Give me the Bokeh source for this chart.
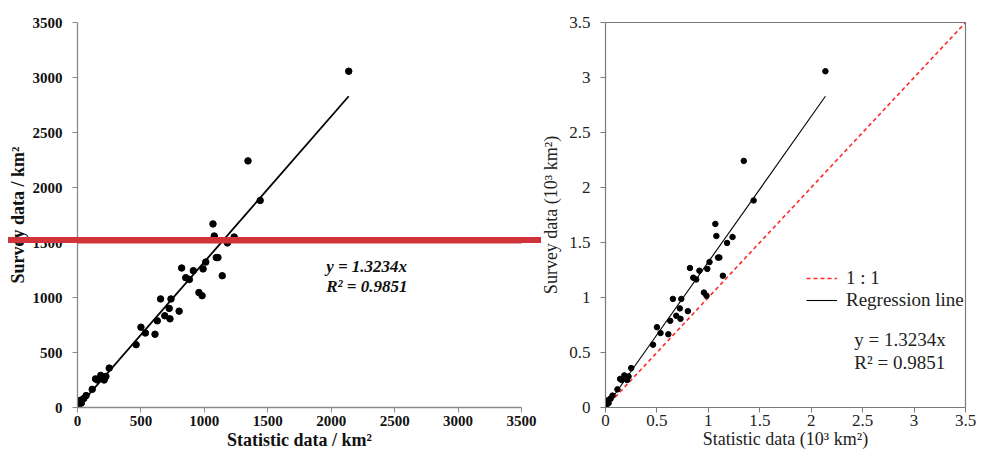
from bokeh.plotting import figure
from bokeh.layouts import row
from bokeh.models import (Range1d, FixedTicker, Label, Legend, LegendItem, BoxAnnotation,
                          InlineStyleSheet)
from bokeh.embed import file_html
from bokeh.resources import INLINE

# ---- data (km²) ----
stat_km2 = [2138, 1344, 1440, 1068, 1078, 1182, 1235, 1094, 1107, 1011, 990, 821,
            913, 853, 882, 1141, 957, 982, 655, 737, 723, 688, 729, 801, 629, 500,
            535, 611, 462, 250, 142, 157, 183, 210, 224, 116, 68, 50, 24, 15, 10, 6, 3, 30]
surv_km2 = [3057, 2242, 1882, 1669, 1559, 1496, 1550, 1363, 1363, 1322, 1260, 1268,
            1244, 1180, 1164, 1198, 1045, 1016, 987, 987, 901, 834, 806, 876, 788, 730,
            677, 666, 571, 358, 260, 250, 292, 250, 282, 165, 108, 82, 66, 42, 25, 15, 8, 40]
slope = 1.3234
r_squared = 0.9851
left_ticks = [0, 500, 1000, 1500, 2000, 2500, 3000, 3500]
right_ticks = [0, 0.5, 1, 1.5, 2, 2.5, 3, 3.5]
right_tick_labels = ["0", "0.5", "1", "1.5", "2", "2.5", "3", "3.5"]

SERIF = "Liberation Serif"
GRAY = "#8a8a8a"
BAR_RED = "#d0343a"

stat_k = [v / 1000 for v in stat_km2]
surv_k = [v / 1000 for v in surv_km2]
xmax = max(stat_km2)

# ---------------- left panel ----------------
p1 = figure(width=538, height=452, output_backend="svg", toolbar_location=None,
            x_range=Range1d(left_ticks[0], left_ticks[-1]),
            y_range=Range1d(left_ticks[0], left_ticks[-1]),
            min_border_left=77, min_border_right=17, min_border_top=22, min_border_bottom=45)
p1.outline_line_color = None
p1.xgrid.visible = False
p1.ygrid.visible = False
for ax in (p1.xaxis[0], p1.yaxis[0]):
    ax.ticker = FixedTicker(ticks=left_ticks)
    ax.minor_tick_line_color = None
    ax.major_tick_in = 0
    ax.major_tick_out = 5
    ax.axis_line_color = GRAY
    ax.axis_line_width = 1.3
    ax.major_tick_line_color = GRAY
    ax.major_label_text_font = SERIF
    ax.major_label_text_font_style = "bold"
    ax.major_label_text_font_size = "15px"
    ax.major_label_text_color = "#111111"
    ax.axis_label_text_font = SERIF
    ax.axis_label_text_font_style = "bold"
    ax.axis_label_text_font_size = "18px"
    ax.axis_label_text_color = "#111111"
p1.xaxis.axis_label = "Statistic data / km²"
p1.yaxis.axis_label = "Survey data / km²"
p1.xaxis.major_label_standoff = 3
p1.xaxis.axis_label_standoff = 1
p1.yaxis.major_label_standoff = 10
p1.yaxis.axis_label_standoff = 2

p1.line([0, xmax], [0, slope * xmax], line_color="black", line_width=1.8)
p1.scatter(stat_km2, surv_km2, size=6.5, color="black")

p1.add_layout(Label(x=1960, y=1282, text=f"y = {slope}x", text_font=SERIF,
                    text_font_style="bold italic", text_font_size="17px",
                    text_baseline="middle", text_color="#111111"))
p1.add_layout(Label(x=1960, y=1100, text=f"R² = {r_squared}", text_font=SERIF,
                    text_font_style="bold italic", text_font_size="17px",
                    text_baseline="middle", text_color="#111111"))

# red marker bar across the left panel (inside the frame)
p1.add_layout(BoxAnnotation(left=8, right=541, top=237, bottom=243,
                            left_units="canvas", right_units="canvas",
                            top_units="canvas", bottom_units="canvas",
                            fill_color=BAR_RED, fill_alpha=1, line_color=None,
                            level="overlay"))

# ---------------- right panel ----------------
p2 = figure(width=438, height=452, output_backend="svg", toolbar_location=None,
            x_range=Range1d(right_ticks[0], right_ticks[-1]),
            y_range=Range1d(right_ticks[0], right_ticks[-1]),
            min_border_left=61, min_border_right=11, min_border_top=22, min_border_bottom=45)
p2.outline_line_color = "#7a7a7a"
p2.outline_line_width = 1.2
p2.xgrid.visible = False
p2.ygrid.visible = False
overrides = {t: lab for t, lab in zip(right_ticks, right_tick_labels)}
for ax in (p2.xaxis[0], p2.yaxis[0]):
    ax.ticker = FixedTicker(ticks=right_ticks)
    ax.major_label_overrides = overrides
    ax.minor_tick_line_color = None
    ax.major_tick_in = 0
    ax.major_tick_out = 5
    ax.axis_line_color = "#7a7a7a"
    ax.major_tick_line_color = "#7a7a7a"
    ax.major_label_text_font = SERIF
    ax.major_label_text_font_size = "17px"
    ax.major_label_text_color = "#222222"
    ax.axis_label_text_font = SERIF
    ax.axis_label_text_font_style = "normal"
    ax.axis_label_text_font_size = "18px"
    ax.axis_label_text_color = "#222222"
p2.xaxis.axis_label = "Statistic data (10³ km²)"
p2.yaxis.axis_label = "Survey data (10³ km²)"
p2.xaxis.major_label_standoff = 2
p2.xaxis.axis_label_standoff = 0
p2.yaxis.major_label_standoff = 10
p2.yaxis.axis_label_standoff = 5

r_one = p2.line([right_ticks[0], right_ticks[-1]], [right_ticks[0], right_ticks[-1]],
                line_color="#ff2a2a", line_width=1.6, line_dash="4 3")
r_reg = p2.line([0, xmax / 1000], [0, slope * xmax / 1000], line_color="black", line_width=1.1)
p2.scatter(stat_k, surv_k, size=5.5, color="black")

legend = Legend(items=[LegendItem(label="1 : 1", renderers=[r_one]),
                       LegendItem(label="Regression line", renderers=[r_reg])],
                location=(201, 96), border_line_color=None, background_fill_alpha=0,
                label_text_font=SERIF, label_text_font_size="19px", label_text_color="#222222",
                glyph_width=31, label_standoff=9, padding=0, spacing=0, margin=0,
                label_height=20, glyph_height=20)
p2.add_layout(legend)

p2.add_layout(Label(x=2.419, y=0.618, text=f"y = {slope}x", text_font=SERIF,
                    text_font_size="19px", text_baseline="middle", text_color="#222222"))
p2.add_layout(Label(x=2.419, y=0.409, text=f"R² = {r_squared}", text_font=SERIF,
                    text_font_size="19px", text_baseline="middle", text_color="#222222"))

# the red marker bar also runs over the left border area of the left panel
bar_css = InlineStyleSheet(css=f"""
:host {{ position: relative; }}
:host::after {{
  content: ""; position: absolute; left: 8px; top: 237px;
  width: 533px; height: 6px; background: {BAR_RED}; z-index: 10; pointer-events: none;
}}
""")
layout = row(p1, p2, spacing=0, stylesheets=[bar_css])
open("out.html", "w").write(file_html(layout, INLINE))
